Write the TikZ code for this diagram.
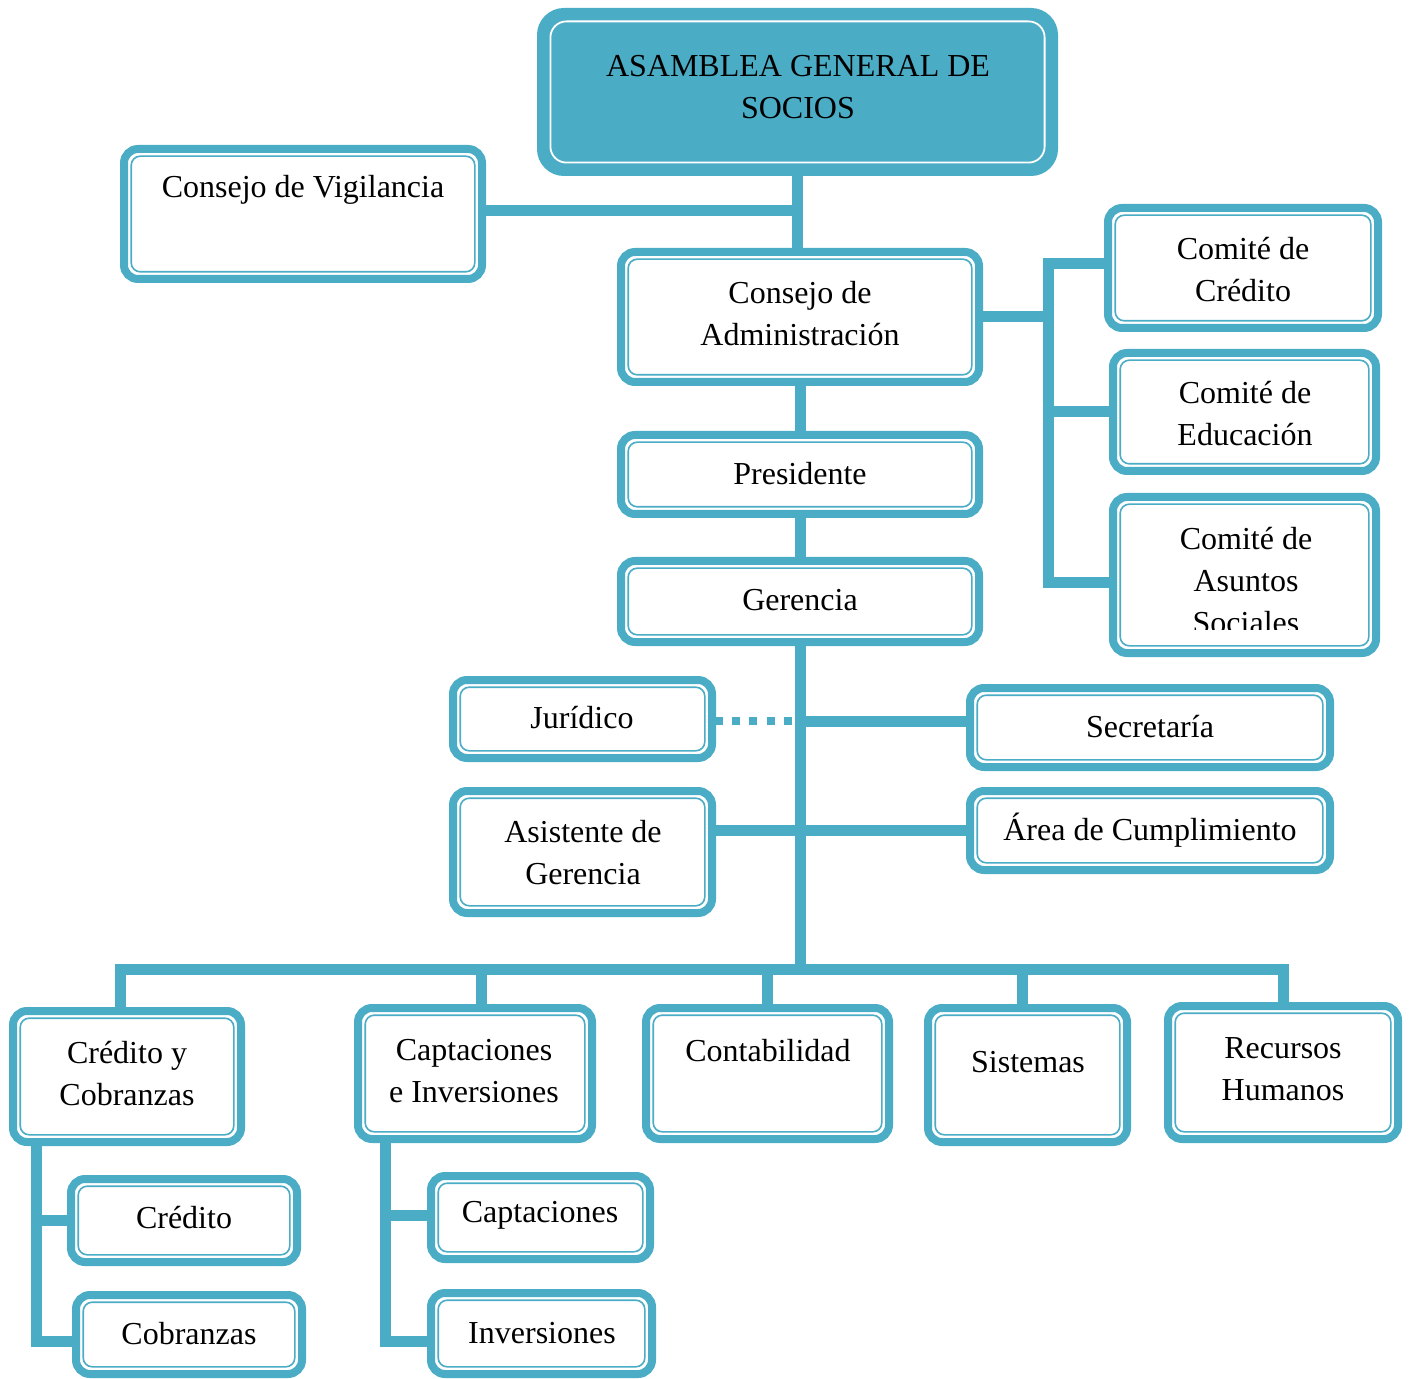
\documentclass[tikz,border=0pt]{standalone}
\usepackage{fontspec}
\setmainfont{Liberation Serif}
\usetikzlibrary{backgrounds}
\definecolor{accent}{HTML}{4BACC6}
\tikzset{
  box/.style={draw=accent, line width=4pt, fill=white, rounded corners=7pt,
    inner sep=0pt, outer sep=0pt},
  topbox/.style={draw=accent, line width=5pt, fill=accent, rounded corners=11pt,
    inner sep=0pt, outer sep=0pt},
  innerline/.style={draw=accent, line width=0.8pt, rounded corners=4.5pt},
  topinner/.style={draw=white, line width=0.9pt, rounded corners=8pt},
  txt/.style={font=\fontsize{16}{21}\selectfont, align=center, inner sep=0pt},
  conn/.style={draw=accent, line width=5.5pt},
  dotconn/.style={draw=accent, line width=4pt, dash pattern=on 4pt off 4.6pt},
}
% \obox{name}{x1}{y1}{x2}{y2}{style}: box between outer edges (x1,y1) and (x2,y2)
\newcommand\obox[6]{%
  \node[#6, minimum width={(#4-#2-8)*0.5pt}, minimum height={(#5-#3-8)*0.5pt}]
    (#1) at ({(#2+#4)/2},{(#3+#5)/2}) {};}
\begin{document}
\begin{tikzpicture}[x=0.5pt, y=-0.5pt]
\useasboundingbox (0,0) rectangle (1413,1379);

% boxes
\node[topbox, minimum width={(1058-537-10)*0.5pt}, minimum height={(176-8-10)*0.5pt}]
  (asam) at ({(537+1058)/2},{(8+176)/2}) {};
\draw[topinner] ([shift={(4.2pt,4.2pt)}]asam.south west) rectangle
  ([shift={(-4.2pt,-4.2pt)}]asam.north east);
\obox{vig}{120}{145}{486}{283}{box}
\obox{adm}{617}{248}{983}{386}{box}
\obox{pres}{617}{431}{983}{518}{box}
\obox{ger}{617}{557}{983}{646}{box}
\obox{ccre}{1104}{204}{1382}{332}{box}
\obox{cedu}{1109}{349}{1380}{475}{box}
\obox{casu}{1109}{493}{1380}{657}{box}
\obox{jur}{449}{676}{716}{762}{box}
\obox{sec}{966}{684}{1334}{771}{box}
\obox{asis}{449}{787}{716}{917}{box}
\obox{area}{966}{787}{1334}{874}{box}
\obox{cyc}{9}{1007}{245}{1146}{box}
\obox{cei}{354}{1004}{596}{1143}{box}
\obox{cont}{642}{1004}{893}{1143}{box}
\obox{sis}{924}{1004}{1131}{1146}{box}
\obox{rrhh}{1164}{1002}{1402}{1143}{box}
\obox{cre}{67}{1175}{301}{1266}{box}
\obox{cob}{72}{1291}{306}{1378}{box}
\obox{cap}{427}{1172}{654}{1263}{box}
\obox{inv}{427}{1289}{656}{1378}{box}

% thin inner outline of every white box
\foreach \n in {vig,adm,pres,ger,ccre,cedu,casu,jur,sec,asis,area,
                cyc,cei,cont,sis,rrhh,cre,cob,cap,inv}
  \draw[innerline] ([shift={(3.6pt,3.6pt)}]\n.south west) rectangle
    ([shift={(-3.6pt,-3.6pt)}]\n.north east);

% labels
\node[txt] (tasam) at (798,87) {ASAMBLEA GENERAL DE\\SOCIOS};
\node[txt] (tvig) at (303,190) {Consejo de Vigilancia};
\node[txt] (tadm) at (800,314) {Consejo de\\Administración};
\node[txt] (tpres) at (800,474) {Presidente};
\node[txt] (tger) at (800,600) {Gerencia};
\node[txt] (tccre) at (1243,270) {Comité de\\Crédito};
\node[txt] (tcedu) at (1245,414) {Comité de\\Educación};
\begin{scope}
  \clip (1109,493) rectangle (1380,629);
  \node[txt] (tcasu) at (1246,581) {Comité de\\Asuntos\\Sociales};
\end{scope}
\node[txt] (tjur) at (582,718) {Jurídico};
\node[txt] (tsec) at (1150,727) {Secretaría};
\node[txt] (tasis) at (583,853) {Asistente de\\Gerencia};
\node[txt] (tarea) at (1150,830) {Área de Cumplimiento};
\node[txt] (tcyc) at (127,1074) {Crédito y\\Cobranzas};
\node[txt] (tcei) at (474,1071) {Captaciones\\e Inversiones};
\node[txt] (tcont) at (768,1051) {Contabilidad};
\node[txt] (tsis) at (1028,1062) {Sistemas};
\node[txt] (trrhh) at (1283,1069) {Recursos\\Humanos};
\node[txt] (tcre) at (184,1218) {Crédito};
\node[txt] (tcob) at (189,1334) {Cobranzas};
\node[txt] (tcap) at (540,1215) {Captaciones};
\node[txt] (tinv) at (542,1333) {Inversiones};

% connectors
\coordinate (cbus) at (1048,0);
\coordinate (gbus) at (0,969);
\coordinate (lbus) at (36,0);
\coordinate (mbus) at (385,0);
\begin{scope}[on background layer]
  \draw[conn] (asam.south) -- (asam.south |- adm.north);
  \draw[conn] ([yshift=1.5pt]vig.east) -- ([yshift=1.5pt]vig.east -| asam.south);
  \draw[conn] (adm.south) -- (pres.north);
  \draw[conn] (pres.south) -- (ger.north);
  % committees
  \draw[conn] (adm.east) -- (adm.east -| cbus);
  \draw[conn] ([yshift=2pt]ccre.west) -- ([yshift=2pt]ccre.west -| cbus)
     -- ([yshift=-4pt]casu.west -| cbus) -- ([yshift=-4pt]casu.west);
  \draw[conn] (cedu.west -| cbus) -- (cedu.west);
  % management line
  \draw[conn] (ger.south) -- (ger.south |- gbus);
  \draw[dotconn] ([xshift=1.5pt,yshift=-1pt]jur.east) -- ([yshift=-1pt]jur.east -| ger.south);
  \draw[conn] ([yshift=-1pt]jur.east -| ger.south) -- ([yshift=-1pt]jur.east -| sec.west);
  \draw[conn] (area.west -| asis.east) -- (area.west);
  % departments
  \draw[conn] ([xshift=-3.5pt]cyc.north) -- ([xshift=-3.5pt]cyc.north |- gbus)
     -- (rrhh.north |- gbus) -- (rrhh.north);
  \draw[conn] ([xshift=3pt]cei.north) -- ([xshift=3pt]cei.north |- gbus);
  \draw[conn] (cont.north) -- (cont.north |- gbus);
  \draw[conn] ([xshift=-2.5pt]sis.north) -- ([xshift=-2.5pt]sis.north |- gbus);
  % sub-units
  \draw[conn] (lbus |- cyc.south) -- ([yshift=-3.5pt]cob.west -| lbus) -- ([yshift=-3.5pt]cob.west);
  \draw[conn] (cre.west -| lbus) -- (cre.west);
  \draw[conn] (mbus |- cei.south) -- ([yshift=-4pt]inv.west -| mbus) -- ([yshift=-4pt]inv.west);
  \draw[conn] ([yshift=1pt]cap.west -| mbus) -- ([yshift=1pt]cap.west);
\end{scope}
\end{tikzpicture}
\end{document}
